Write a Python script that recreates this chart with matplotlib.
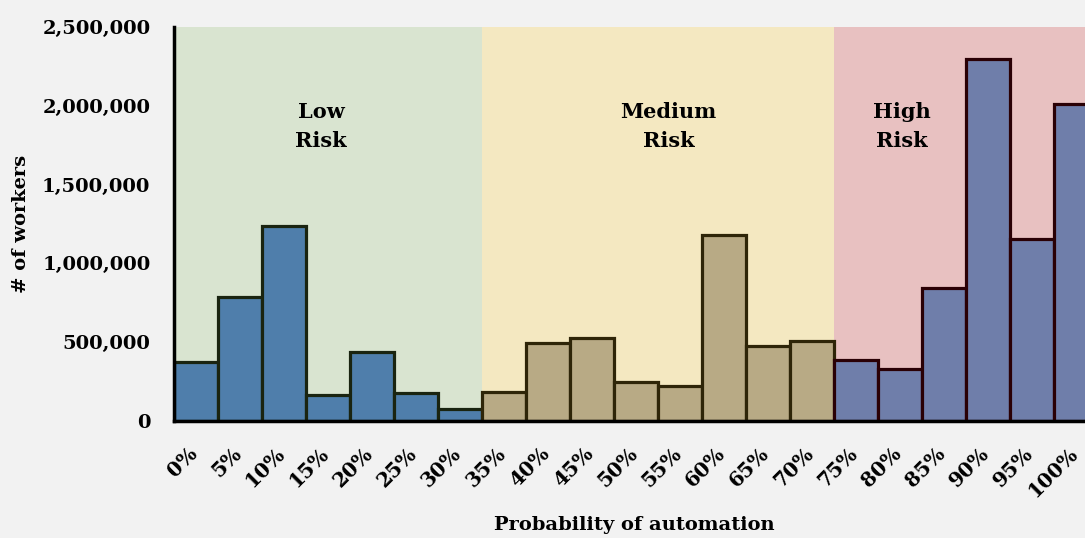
import matplotlib
matplotlib.use('Agg')
import matplotlib.pyplot as plt
import matplotlib.ticker as mticker
import matplotlib.transforms as mtransforms
import numpy as np

plt.rcParams.update({
    'font.family': 'DejaVu Serif',
    'font.weight': 'bold',
})

# Data
bins = ['0%', '5%', '10%', '15%', '20%', '25%', '30%', '35%', '40%', '45%', '50%',
        '55%', '60%', '65%', '70%', '75%', '80%', '85%', '90%', '95%', '100%']
workers = [375000, 787000, 1237000, 165000, 438000, 178000, 76000,
           184000, 495000, 527000, 247000, 222000, 1180000, 476000, 508000,
           387000, 330000, 844000, 2297000, 1155000, 2011000]
risk_names = ['Low\nRisk', 'Medium\nRisk', 'High\nRisk']
risk_bins = [(0, 7), (7, 15), (15, 21)]  # bin index ranges per risk band

band_colors = ['#d9e4d0', '#f4e8c1', '#e8c1c1']
bar_colors = ['#4f7eab', '#b8aa85', '#6f7eaa']
edge_colors = ['#1a2410', '#2e2508', '#2a0005']
label_x = [3.34, 11.24, 16.53]

fig = plt.figure(figsize=(10.85, 5.38), dpi=100, facecolor='#f2f2f2')
ax = fig.add_axes([174 / 1085, 1 - 421 / 538, 1 - 174 / 1085, (421 - 27) / 538])
ax.set_facecolor('#f2f2f2')

x = np.arange(len(bins))
for (lo, hi), bc, fc, ec, name, lx in zip(risk_bins, band_colors, bar_colors,
                                           edge_colors, risk_names, label_x):
    ax.axvspan(lo, hi, color=bc, zorder=0, lw=0)
    ax.bar(x[lo:hi], workers[lo:hi], width=1, align='edge', color=fc,
           edgecolor=ec, linewidth=2.3, zorder=2)
    ax.text(lx, 1870000, name, ha='center', va='center', fontsize=15,
            fontweight='bold', linespacing=1.55, zorder=3)

ax.set_xlim(0, 20.7)
ax.set_ylim(0, 2500000)
ax.yaxis.set_major_locator(mticker.MultipleLocator(500000))
ax.yaxis.set_major_formatter(mticker.FuncFormatter(lambda v, p: f'{int(v):,}'))
ax.tick_params(axis='y', length=0, labelsize=14, pad=17)

ax.set_xticks(x + 0.5)
ax.set_xticklabels(bins, rotation=45, ha='right', rotation_mode='anchor', fontsize=14.5)
ax.tick_params(axis='x', length=0, pad=16)
shift = mtransforms.ScaledTranslation(-9 / 100, 0, fig.dpi_scale_trans)
for lab in ax.get_xticklabels():
    lab.set_transform(lab.get_transform() + shift)

for s in ['top', 'right']:
    ax.spines[s].set_visible(False)
ax.spines['left'].set_linewidth(2.5)
ax.spines['bottom'].set_linewidth(2.5)
ax.spines['left'].set_zorder(4)
ax.spines['bottom'].set_zorder(4)

ax.set_ylabel('# of workers', fontsize=14, fontweight='bold', labelpad=9)
fig.text(634 / 1085, 1 - 525 / 538, 'Probability of automation', ha='center',
         va='center', fontsize=14, fontweight='bold')

fig.savefig('out.png', dpi=100, facecolor=fig.get_facecolor())
